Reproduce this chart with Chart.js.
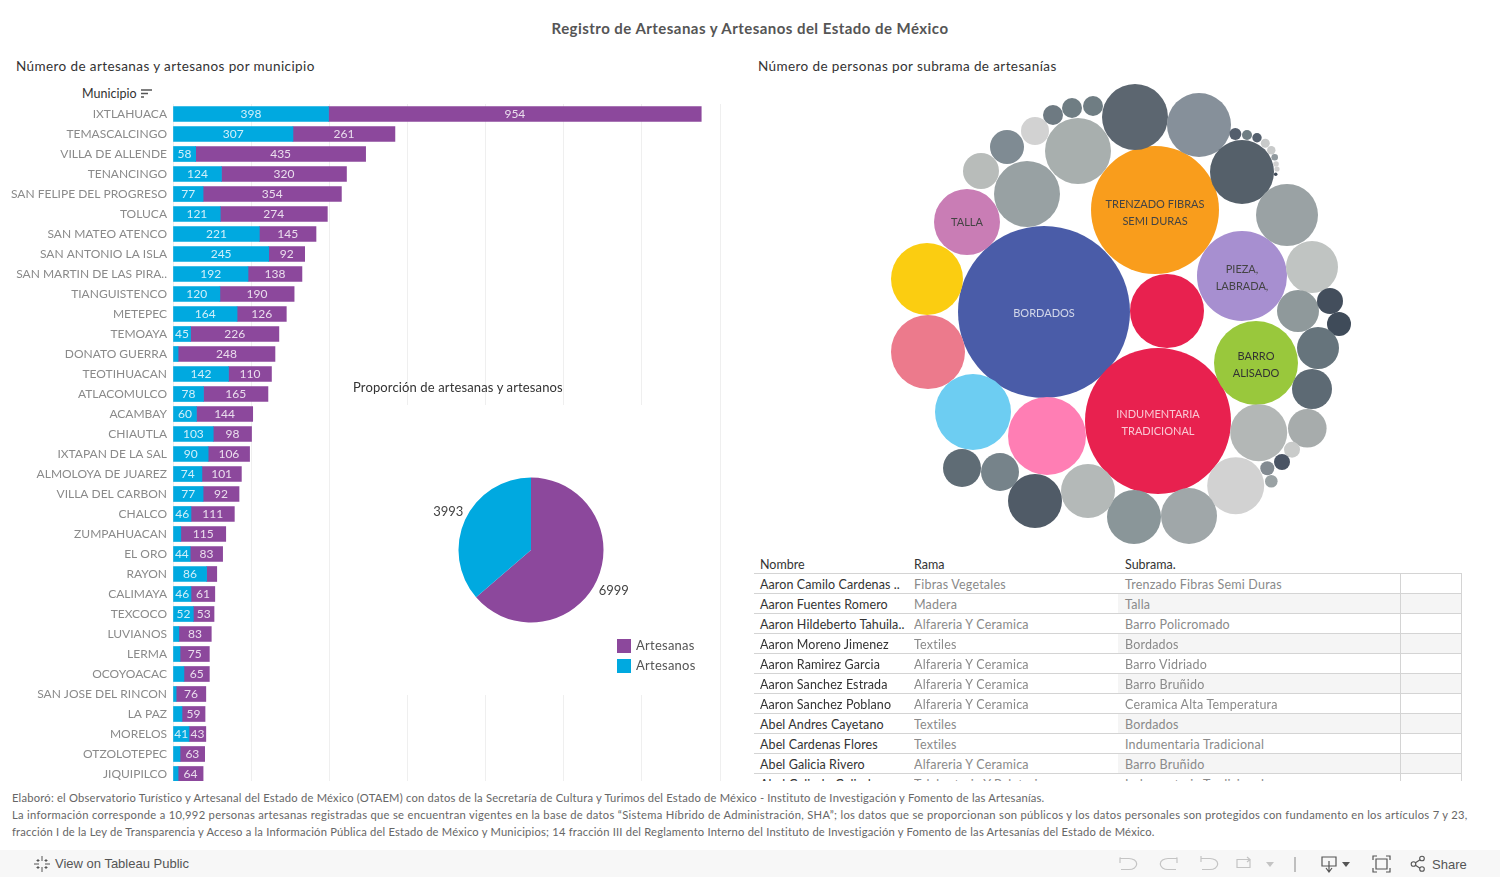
<!DOCTYPE html>
<html lang="es">
<head>
<meta charset="utf-8">
<title>Registro de Artesanas y Artesanos</title>
<script src="https://cdn.jsdelivr.net/npm/chart.js@4"></script>
<style>
  html, body { margin: 0; padding: 0; background: #fff; }
  body { width: 1500px; height: 877px; position: relative; overflow: hidden; font-family: Lato, sans-serif; }
  .abs { position: absolute; white-space: nowrap; line-height: 1; }
  #title { left: 0; width: 1500px; top: 21px; text-align: center; font-size: 15px; font-weight: 700; color: #555; letter-spacing: .46px; }
  .sub { font-size: 13.5px; color: #333; letter-spacing: .4px; }
  #barWrap { position: absolute; left: 0; top: 104px; width: 724px; height: 677px; overflow: hidden; }
  #pieWrap { position: absolute; left: 345px; top: 405px; width: 372px; height: 290px; background: #fff; }
  #bubbleWrap { position: absolute; left: 880px; top: 80px; width: 480px; height: 470px; }
  #tableWrap { position: absolute; left: 754px; top: 555px; width: 708px; height: 226px; overflow: hidden; }
  table { border-collapse: collapse; table-layout: fixed; width: 707px; font-size: 12.5px; }
  th { font-weight: 400; color: #333; text-align: left; height: 17px; padding: 1px 0 0 6px; border-bottom: 1px solid #d4d4d4; }
  td { height: 18px; padding: 1px 0 0 6px; border-bottom: 1px solid #d4d4d4; color: #8a8a8a; white-space: nowrap; overflow: hidden; letter-spacing: .2px; }
  td.n { color: #333; letter-spacing: .1px; }
  td.s { padding-left: 7px; }
  tr.alt td.s, tr.alt td.e { background: #f5f5f5; }
  td.e { border-left: 1px solid #d4d4d4; border-right: 1px solid #d4d4d4; }
  .foot { left: 12px; font-size: 11.2px; color: #666; }
  #bar { position: absolute; left: 0; top: 850px; width: 1500px; height: 27px; background: #f7f7f7; }
</style>
</head>
<body>
<div class="abs" id="title">Registro de Artesanas y Artesanos del Estado de México</div>
<div class="abs sub" style="left:16px;top:60px">Número de artesanas y artesanos por municipio</div>
<div class="abs sub" style="left:758px;top:60px">Número de personas por subrama de artesanías</div>
<div class="abs" style="left:82px;top:88px;font-size:12.5px;color:#333">Municipio</div>
<svg class="abs" style="left:141px;top:89px" width="12" height="11"><path d="M0 1h11M0 4.5h7M0 8h3" stroke="#555" stroke-width="1.4"/></svg>

<div id="barWrap"><canvas id="barChart" width="724" height="680" style="width:724px;height:680px"></canvas></div>

<div id="pieWrap"><canvas id="pieChart" width="372" height="290" style="width:372px;height:290px"></canvas></div>
<div class="abs sub" style="left:353px;top:381px;font-size:13px;letter-spacing:.13px">Proporción de artesanas y artesanos</div>
<div id="pieLegend"></div>

<div id="bubbleWrap"><canvas id="bubbleChart" width="480" height="470" style="width:480px;height:470px"></canvas></div>

<div id="tableWrap"><table id="tbl"></table></div>

<div class="abs foot" style="top:792px;letter-spacing:.21px">Elaboró: el Observatorio Turístico y Artesanal del Estado de México (OTAEM) con datos de la Secretaría de Cultura y Turimos del Estado de México - Instituto de Investigación y Fomento de las Artesanías.</div>
<div class="abs foot" style="top:809px;letter-spacing:.3px">La información corresponde a 10,992 personas artesanas registradas que se encuentran vigentes en la base de datos “Sistema Híbrido de Administración, SHA”; los datos que se proporcionan son públicos y los datos personales son protegidos con fundamento en los artículos 7 y 23,</div>
<div class="abs foot" style="top:826px;letter-spacing:.2px">fracción I de la Ley de Transparencia y Acceso a la Información Pública del Estado de México y Municipios; 14 fracción III del Reglamento Interno del Instituto de Investigación y Fomento de las Artesanías del Estado de México.</div>

<div id="bar"></div>
<svg class="abs" style="left:33px;top:855px" width="18" height="18" stroke="#555" fill="none"><path d="M9 1v5M9 12v5M1 9h5M12 9h5M5 4v3M3.5 5.5h3M13 4v3M11.5 5.5h3M5 11v3M3.5 12.5h3M13 11v3M11.5 12.5h3"/></svg>
<div class="abs" style="left:55px;top:856px;font:13px 'Liberation Sans',sans-serif;color:#555">View on Tableau Public</div>
<svg class="abs" style="left:1115px;top:853px" width="290" height="22" fill="none" stroke="#c4c4c4" stroke-width="1.2">
  <path d="M6 5h-1v5M5 5.500h9a7 5 0 0 1 0 11h-8"/>
  <path d="M61 5h1v5M62 5.500h-9a7 5 0 0 0 0 11h8"/>
  <path d="M86 3v6M86 5.500h9a7 5 0 0 1 0 11h-8"/>
  <path d="M122 6.500h13v8h-13zM132 4l3 2.500-3 2.500"/>
  <path d="M151 9h8l-4 5z" fill="#c4c4c4" stroke="none"/>
  <path d="M180 4v15" stroke="#999"/>
  <g stroke="#555"><path d="M207 4h14v9h-14zM214 8v11M211 15l3 4 3-4"/><path d="M262 3h-4v4M271 3h4v4M262 19h-4v-4M271 19h4v-4M261 6h11v10h-11z"/></g>
  <path d="M227 9h8l-4 5z" fill="#555" stroke="none"/>
</svg>
<svg class="abs" style="left:1410px;top:855px" width="20" height="18" fill="none" stroke="#555" stroke-width="1.1"><circle cx="3.500" cy="9" r="2.300"/><circle cx="12" cy="3.500" r="2.300"/><circle cx="12" cy="14" r="2.300"/><path d="M5.500 7.800l4.500-3M5.500 10.200l4.500 3"/></svg>
<div class="abs" style="left:1432px;top:857px;font:13px 'Liberation Sans',sans-serif;color:#555">Share</div>

<script>
const municipios = ["IXTLAHUACA","TEMASCALCINGO","VILLA DE ALLENDE","TENANCINGO","SAN FELIPE DEL PROGRESO","TOLUCA","SAN MATEO ATENCO","SAN ANTONIO LA ISLA","SAN MARTIN DE LAS PIRA..","TIANGUISTENCO","METEPEC","TEMOAYA","DONATO GUERRA","TEOTIHUACAN","ATLACOMULCO","ACAMBAY","CHIAUTLA","IXTAPAN DE LA SAL","ALMOLOYA DE JUAREZ","VILLA DEL CARBON","CHALCO","ZUMPAHUACAN","EL ORO","RAYON","CALIMAYA","TEXCOCO","LUVIANOS","LERMA","OCOYOACAC","SAN JOSE DEL RINCON","LA PAZ","MORELOS","OTZOLOTEPEC","JIQUIPILCO"];
const artesanos = [398,307,58,124,77,121,221,245,192,120,164,45,13,142,78,60,103,90,74,77,46,20,44,86,46,52,15,18,28,8,23,41,18,13];
const artesanas = [954,261,435,320,354,274,145,92,138,190,126,226,248,110,165,144,98,106,101,92,111,115,83,26,61,53,83,75,65,76,59,43,63,64];

const pieLabels = ["Artesanas","Artesanos"];
const pieValues = [6999,3993];

// packed bubbles
const bubbleLabels = [["BORDADOS"],["INDUMENTARIA","TRADICIONAL"],["TRENZADO FIBRAS","SEMI DURAS"],["PIEZA,","LABRADA,"],["BARRO","ALISADO"],["TALLA"]];
const bubbleX = [164,278,275,362,376,87,287,47,48,93,167,255,319,362,407,198,147,101,127,155,173,192,213,355.3,367,377,385.3,391.3,394.7,396,397,395.7,432,418,450,459,438,432,378.7,427.3,412,402,387.3,391.3,355.7,309,254,208,155,120,82];
const bubbleY = [232,341,130,196,283,142,231,199,272,332,356,37,45,92,135,71,114,91,67,51,35,28,26,54,55,57.700,63.300,70.300,77.300,84,89,94.300,187,231,221,244,268,309,352.700,348.300,369.700,382,388.300,401.300,405.700,436,437,411,421,392,388];
const bubbleR = [86,73,64,45,42,33,37,36,37,38,39,33,32,32,31,33,33,18,17,14,10,10,10,6,5,4.700,4.500,4.200,3.300,2.800,2.600,1.800,26,21,13,12,21,20,28.500,19.300,8,8,7,6.300,28.500,28,27,27,27,19,19];
const bubbleColors = ["#4a5ca8","#e8214f","#f99d1c","#a78fd0","#99c83c","#c97db5","#e8214f","#fbcd11","#ec7a8c","#6dcdf2","#ff7eb4","#5c6670","#86909a","#55606a","#9aa2a4","#a8afae","#98a1a3","#b8bcba","#7f8b93","#d2d2d2","#6e7a82","#6f7d83","#6f7d83","#545e6c","#6f7d83","#55606e","#c8caca","#c8caca","#8f989d","#d0d0d0","#d0d0d0","#3f4a58","#c0c4c2","#8f999b","#434e5c","#3f4b59","#66747c","#5d6a74","#b3b7b6","#a7acac","#c9cbca","#4a5464","#838b92","#9aa2a4","#d2d2d2","#a0a7a9","#8a9699","#b4b9b8","#505b67","#76838a","#5f6c75"];
const bubbleTextColors = ["rgba(255,255,255,.75)","rgba(255,255,255,.75)","#444","#444","#333","#444"];

const nombres = ["Aaron Camilo Cardenas ..","Aaron Fuentes Romero","Aaron Hildeberto Tahuila..","Aaron Moreno Jimenez","Aaron Ramirez Garcia","Aaron Sanchez Estrada","Aaron Sanchez Poblano","Abel Andres Cayetano","Abel Cardenas Flores","Abel Galicia Rivero","Abel Galindo Galindo"];
const ramas = ["Fibras Vegetales","Madera","Alfareria Y Ceramica","Textiles","Alfareria Y Ceramica","Alfareria Y Ceramica","Alfareria Y Ceramica","Textiles","Textiles","Alfareria Y Ceramica","Talabarteria Y Peleteria"];
const subramas = ["Trenzado Fibras Semi Duras","Talla","Barro Policromado","Bordados","Barro Vidriado","Barro Bruñido","Ceramica Alta Temperatura","Bordados","Indumentaria Tradicional","Barro Bruñido","Indumentaria Tradicional"];

const BLUE = "#00a9e0";
const PURPLE = "#8c489c";
const FONT = "Lato, sans-serif";
Chart.defaults.font.family = FONT;
Chart.defaults.animation = false;
Chart.defaults.devicePixelRatio = 1;

const barLabels = {
  id: "barLabels",
  afterDatasetsDraw(chart) {
    const ctx = chart.ctx;
    ctx.save();
    ctx.font = "12px " + FONT;
    ctx.fillStyle = "rgba(255,255,255,.82)";
    ctx.textAlign = "center";
    ctx.textBaseline = "middle";
    chart.data.datasets.forEach((ds, i) => {
      chart.getDatasetMeta(i).data.forEach((bar, j) => {
        if (ds.data[j] < 40) return; // too narrow, tableau hides these
        ctx.fillText(ds.data[j], (bar.x + bar.base) / 2, bar.y + 0.5);
      });
    });
    ctx.restore();
  }
};

new Chart(document.getElementById("barChart"), {
  type: "bar",
  data: {
    labels: municipios,
    datasets: [
      { label: "Artesanos", data: artesanos, backgroundColor: BLUE, barThickness: 15 },
      { label: "Artesanas", data: artesanas, backgroundColor: PURPLE, barThickness: 15 }
    ]
  },
  options: {
    indexAxis: "y",
    responsive: false,
    layout: { padding: { right: 4 }, autoPadding: false },
    plugins: { legend: { display: false }, tooltip: { enabled: false } },
    scales: {
      x: {
        stacked: true, min: 0, max: 1400, position: "top",
        afterFit(axis) { axis.height = 0; },
        ticks: { display: false, stepSize: 200 },
        grid: { color: "#efefef", drawTicks: false },
        border: { display: false }
      },
      y: {
        stacked: true,
        // drop the label overhang, rows have to be exactly 20px
        afterFit(axis) { axis.width = 173; axis.paddingTop = 0; axis.paddingBottom = 0; },
        ticks: { color: "#8a8a8a", font: { size: 12 }, padding: 6, autoSkip: false },
        grid: { display: false, drawTicks: false },
        border: { display: false }
      }
    }
  },
  plugins: [barLabels]
});

const pieNudgeY = [3, 0];
const pieOutLabels = {
  id: "pieOutLabels",
  afterDatasetsDraw(chart) {
    const ctx = chart.ctx;
    ctx.save();
    ctx.font = "13px " + FONT;
    ctx.fillStyle = "#444";
    ctx.textAlign = "center";
    ctx.textBaseline = "middle";
    chart.getDatasetMeta(0).data.forEach((arc, i) => {
      const mid = (arc.startAngle + arc.endAngle) / 2;
      ctx.fillText(pieValues[i], arc.x + Math.cos(mid) * 91, arc.y + Math.sin(mid) * 91 + pieNudgeY[i]);
    });
    ctx.restore();
  }
};

new Chart(document.getElementById("pieChart"), {
  type: "pie",
  data: { labels: pieLabels, datasets: [{ data: pieValues, backgroundColor: [PURPLE, BLUE], borderWidth: 0 }] },
  options: {
    responsive: false,
    radius: 72.5,
    plugins: { legend: { display: false }, tooltip: { enabled: false } }
  },
  plugins: [pieOutLabels]
});

document.getElementById("pieLegend").innerHTML = pieLabels.map((l, i) =>
  '<div class="abs" style="left:617px;top:' + (639 + i * 20) + 'px;width:14px;height:14px;background:' + [PURPLE, BLUE][i] + '"></div>' +
  '<div class="abs" style="left:636px;top:' + (639 + i * 20) + 'px;font-size:13px;letter-spacing:.25px;color:#555">' + l + '</div>'
).join("");

const bubbleLabelDy = [1, 2, 3, 2, 2, 0];
const bubbleText = {
  id: "bubbleText",
  afterDatasetsDraw(chart) {
    const ctx = chart.ctx;
    ctx.save();
    ctx.font = "11px " + FONT;
    ctx.textAlign = "center";
    ctx.textBaseline = "middle";
    const pts = chart.getDatasetMeta(0).data;
    bubbleLabels.forEach((lines, i) => {
      ctx.fillStyle = bubbleTextColors[i];
      lines.forEach((t, k) => {
        ctx.fillText(t, pts[i].x, pts[i].y + (k - (lines.length - 1) / 2) * 17 + bubbleLabelDy[i]);
      });
    });
    ctx.restore();
  }
};

new Chart(document.getElementById("bubbleChart"), {
  type: "bubble",
  data: {
    datasets: [{
      data: bubbleX.map((x, i) => ({ x: x, y: bubbleY[i], r: bubbleR[i] })),
      backgroundColor: bubbleColors,
      borderWidth: 0,
      hoverRadius: 0
    }]
  },
  options: {
    responsive: false,
    layout: { padding: 0, autoPadding: false },
    clip: false,
    plugins: { legend: { display: false }, tooltip: { enabled: false } },
    scales: {
      x: { display: false, min: 0, max: 480 },
      y: { display: false, min: 0, max: 470, reverse: true }
    }
  },
  plugins: [bubbleText]
});

let rows = '<colgroup><col style="width:160px"><col style="width:204px"><col style="width:282px"><col style="width:61px"></colgroup>' +
  '<tr><th>Nombre</th><th style="padding-left:0">Rama</th><th colspan="2" style="padding-left:7px">Subrama.</th></tr>';
nombres.forEach((n, i) => {
  rows += '<tr' + (i % 2 ? ' class="alt"' : '') + '><td class="n">' + n + '</td><td style="padding-left:0">' + ramas[i] +
    '</td><td class="s">' + subramas[i] + '</td><td class="e"></td></tr>';
});
document.getElementById("tbl").innerHTML = rows;
</script>
</body>
</html>
